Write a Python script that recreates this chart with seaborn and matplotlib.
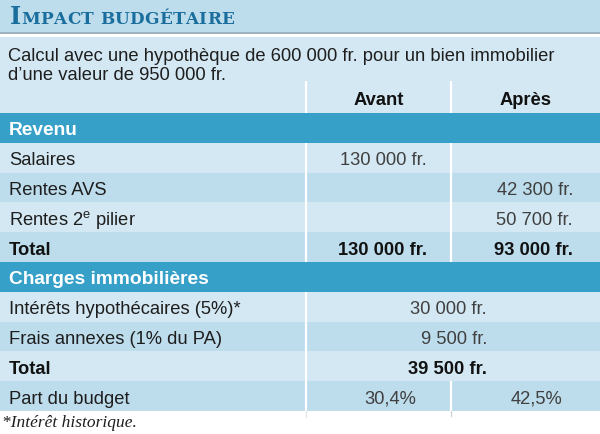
import numpy as np
import pandas as pd
import matplotlib
matplotlib.use("Agg")
import matplotlib.pyplot as plt
import seaborn as sns
from matplotlib.colors import ListedColormap

# ---------------- data ----------------
title_caps = "IMPACT BUDGÉTAIRE"
intro_lines = ["Calcul avec une hypothèque de 600 000 fr. pour un bien immobilier",
               "d’une valeur de 950 000 fr."]
col_headers = ["Avant", "Après"]

sec_revenu = "Revenu"
revenu_labels = ["Salaires", "Rentes AVS", "Rentes 2$^{\\mathrm{e}}$ pilier", "Total"]
revenu_avant = ["130 000 fr.", "", "", "130 000 fr."]
revenu_apres = ["", "42 300 fr.", "50 700 fr.", "93 000 fr."]

sec_charges = "Charges immobilières"
charges_labels = ["Intérêts hypothécaires (5%)*", "Frais annexes (1% du PA)", "Total"]
charges_values = ["30 000 fr.", "9 500 fr.", "39 500 fr."]

budget_label = "Part du budget"
budget_values = ["30,4%", "42,5%"]

footnote = "*Intérêt historique."

# ---------------- style ----------------
sns.set_theme(style="white")
plt.rcParams["font.family"] = ["Liberation Sans", "DejaVu Sans"]
plt.rcParams["mathtext.fontset"] = "custom"
plt.rcParams["mathtext.rm"] = "Liberation Sans"

C_BAND = "#36a0c9"
C_LIGHT = "#d3e8f3"
C_DARK = "#bddcec"
C_TITLE = "#1a6e9d"
C_TXT = "#1e1e1e"
C_NUM = "#404040"

W, H = 600, 435
fig = plt.figure(figsize=(6, 4.35), dpi=100)
fig.patch.set_facecolor("white")

ROW_TOP, ROW_BOT = 114, 412
n_rows = 1 + len(revenu_labels) + 1 + len(charges_labels) + 1
ROW_H = (ROW_BOT - ROW_TOP) / n_rows

# row kinds derived from structure: 0 band, 1 light, 2 dark
kinds = [0] + [1 + (i % 2) for i in range(len(revenu_labels))] + [0] + \
        [1 + (i % 2) for i in range(len(charges_labels) + 1)]
df = pd.DataFrame({"fond": kinds})

# background axes
ax_bg = fig.add_axes([0, 0, 1, 1], zorder=0)
ax_bg.set_xlim(0, W); ax_bg.set_ylim(H, 0); ax_bg.axis("off")
ax_bg.add_patch(plt.Rectangle((0, 0), W, 33, color=C_DARK, lw=0))
ax_bg.add_patch(plt.Rectangle((0, 33), W, 1.6, color="#9fb2bd", lw=0))
ax_bg.add_patch(plt.Rectangle((0, 38), W, ROW_TOP - 38, color=C_LIGHT, lw=0))

# table rows via seaborn heatmap
ax_tab = fig.add_axes([0, (H - ROW_BOT) / H, 1, (ROW_BOT - ROW_TOP) / H], zorder=1)
sns.heatmap(df, ax=ax_tab, cmap=ListedColormap([C_BAND, C_LIGHT, C_DARK]),
            vmin=-0.5, vmax=2.5, cbar=False, xticklabels=False, yticklabels=False,
            linewidths=0)
ax_tab.set_axis_off()

# overlay
ax = fig.add_axes([0, 0, 1, 1], zorder=2)
ax.set_xlim(0, W); ax.set_ylim(H, 0); ax.axis("off")
ax.patch.set_alpha(0)

renderer = fig.canvas.get_renderer()

# title in small caps
x = 10
for j, ch in enumerate(title_caps):
    size = 17.2 if j == 0 else 12.2
    t = ax.text(x, 24.5, ch, fontsize=size, fontweight="bold", color=C_TITLE,
                family="DejaVu Serif", va="baseline", ha="left")
    bb = t.get_window_extent(renderer)
    x += bb.width + 0.3

FS = 13.2
for k, line in enumerate(intro_lines):
    ax.text(8, 61 + 19 * k, line, fontsize=FS, color=C_TXT, va="baseline")

X_DIV1, X_DIV2 = 306, 451
X_AV, X_AP, X_MERGE = 427, 573, 487
ax.text((X_DIV1 + X_DIV2) / 2, 105, col_headers[0], fontsize=FS, fontweight="bold",
        color="#111111", ha="center", va="baseline")
ax.text((X_DIV2 + W) / 2, 105, col_headers[1], fontsize=FS, fontweight="bold",
        color="#111111", ha="center", va="baseline")

def base(i):
    return ROW_TOP + ROW_H * (i + 0.5) + 6.6

r = 0
ax.text(9, base(r), sec_revenu, fontsize=FS + 0.6, fontweight="bold", color="white", va="baseline")
r += 1
for i, lab in enumerate(revenu_labels):
    bold = (i == len(revenu_labels) - 1)
    fw = "bold" if bold else "normal"
    col = "#111111" if bold else C_TXT
    ax.text(9, base(r), lab, fontsize=FS, fontweight=fw, color=col, va="baseline")
    if revenu_avant[i]:
        ax.text(X_AV, base(r), revenu_avant[i], fontsize=FS, fontweight=fw,
                color="#111111" if bold else C_NUM, ha="right", va="baseline")
    if revenu_apres[i]:
        ax.text(X_AP, base(r), revenu_apres[i], fontsize=FS, fontweight=fw,
                color="#111111" if bold else C_NUM, ha="right", va="baseline")
    r += 1
ax.text(9, base(r), sec_charges, fontsize=FS + 0.6, fontweight="bold", color="white", va="baseline")
r += 1
r_ch0 = r
for i, lab in enumerate(charges_labels):
    bold = (i == len(charges_labels) - 1)
    fw = "bold" if bold else "normal"
    ax.text(9, base(r), lab, fontsize=FS, fontweight=fw,
            color="#111111" if bold else C_TXT, va="baseline")
    ax.text(X_MERGE, base(r), charges_values[i], fontsize=FS, fontweight=fw,
            color="#111111" if bold else C_NUM, ha="right", va="baseline")
    r += 1
ax.text(9, base(r), budget_label, fontsize=FS, color=C_TXT, va="baseline")
ax.text(416, base(r), budget_values[0], fontsize=FS, color=C_NUM, ha="right", va="baseline")
ax.text(562, base(r), budget_values[1], fontsize=FS, color=C_NUM, ha="right", va="baseline")

# white column dividers
lw = 1.6
def vline(xp, y0, y1, c="white"):
    ax.plot([xp, xp], [y0, y1], color=c, lw=lw, solid_capstyle="butt")

y_rev0 = ROW_TOP + ROW_H
y_rev1 = ROW_TOP + ROW_H * (1 + len(revenu_labels))
y_ch0 = ROW_TOP + ROW_H * r_ch0
y_bud0 = ROW_TOP + ROW_H * r
for xp in (X_DIV1, X_DIV2):
    vline(xp, 82, ROW_TOP)
    vline(xp, y_rev0, y_rev1)
vline(X_DIV1, y_ch0, ROW_BOT)
vline(X_DIV2, y_bud0, ROW_BOT)
ax.plot([X_DIV1, X_DIV1], [ROW_BOT, 418], color="#e2e6e8", lw=1.0)
ax.plot([X_DIV2, X_DIV2], [ROW_BOT, 417], color="#cfd4d7", lw=1.0)

ax.text(2, 427, footnote, fontsize=12.5, style="italic", family="Liberation Serif",
        color=C_TXT, va="baseline")

fig.savefig("out.png", dpi=100)
